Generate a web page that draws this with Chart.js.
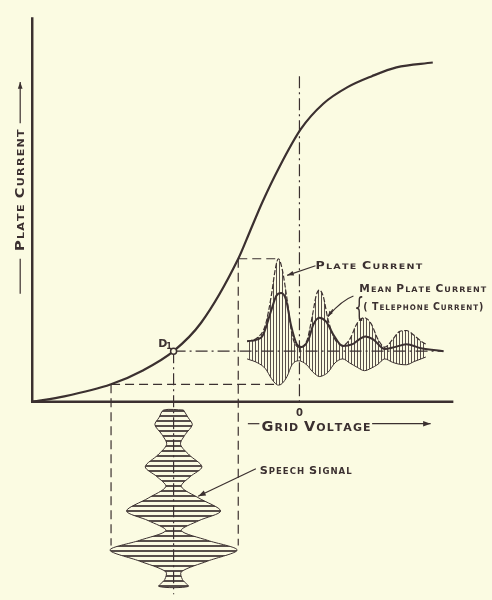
<!DOCTYPE html>
<html>
<head>
<meta charset="utf-8">
<script src="https://cdn.jsdelivr.net/npm/chart.js@4/dist/chart.umd.min.js"></script>
<style>
  html, body { margin: 0; padding: 0; background: #fbfbe2; }
  #wrap { width: 492px; height: 600px; }
</style>
</head>
<body>
<div id="wrap"><canvas id="chart" width="492" height="600"></canvas></div>
<script>
// ====== Data (grid voltage on x, plate current on y, units) ======
const curveVolts   = [-10, -8.8, -7.05, -5.88, -4.71, -3.68, -2.29, -1.85, -1.38, -0.76, 0.05, 0.89, 1.8, 2.71, 3.63, 4.99];
const curveCurrent = [0, 0.2, 0.65, 1.16, 1.89, 2.95, 5.34, 6.37, 7.47, 8.75, 10.18, 11.13, 11.75, 12.16, 12.49, 12.67];

// plate current swing (envelope of the hatched wave)
const plateVolts = [-1.96, -1.56, -1.27, -1.05, -0.9, -0.79, -0.65, -0.46, -0.28, -0.03, 0.27, 0.49, 0.63, 0.74, 0.89, 1.07, 1.33, 1.62, 1.88, 2.17, 2.43, 2.68, 2.94, 3.19, 3.49, 3.74, 4.0, 4.29, 4.55, 4.73];
const plateUpper = [2.26, 2.4, 2.88, 3.98, 4.97, 5.34, 4.97, 3.8, 2.52, 2.04, 2.26, 3.25, 3.98, 4.17, 3.94, 3.07, 2.33, 2.11, 2.33, 2.95, 3.14, 2.92, 2.33, 2.04, 2.33, 2.62, 2.66, 2.48, 2.26, 2.15];
const plateLower = [1.6, 1.45, 1.23, 0.87, 0.68, 0.62, 0.68, 0.95, 1.38, 1.53, 1.38, 1.12, 1.0, 0.94, 0.98, 1.1, 1.45, 1.6, 1.45, 1.28, 1.16, 1.25, 1.4, 1.6, 1.47, 1.4, 1.38, 1.5, 1.6, 1.67];

// mean plate current (telephone current)
const meanVolts   = [-1.96, -1.42, -1.05, -0.87, -0.68, -0.5, -0.32, -0.1, 0.08, 0.34, 0.52, 0.74, 1.0, 1.26, 1.62, 1.99, 2.24, 2.46, 2.76, 3.19, 3.56, 4.0, 4.55, 5.39];
const meanCurrent = [2.26, 2.41, 3.43, 3.95, 4.06, 3.8, 2.88, 2.15, 2.04, 2.33, 2.88, 3.14, 2.99, 2.52, 2.08, 2.15, 2.33, 2.44, 2.33, 1.97, 2.04, 2.15, 2.0, 1.89];

// speech signal on the grid, time running downward below the axis
const speechTime = [-0.31, -0.6, -0.86, -1.22, -1.59, -1.99, -2.43, -2.8, -3.17, -3.6, -4.08, -4.44, -4.81, -5.18, -5.54, -5.95, -6.35, -6.64, -6.9];
const speechAmp  = [0.37, 0.55, 0.7, 0.44, 0.26, 0.59, 1.06, 0.62, 0.29, 0.95, 1.76, 0.95, 0.29, 1.28, 2.38, 1.28, 0.29, 0.33, 0.55];

// operating point D1 and axis extents
const pointD1 = [-4.71, 1.89];
const axisVolts = [-10, 5.76];
const axisTop = 14.36;
const lowSwing = [-7.05, 0.65];   // where the speech swing meets the curve
const highSwing = [-2.29, 5.34];

const ink = "#3b3030";
const paperColor = "#fbfbe2";

function pts(xs, ys) {
  return xs.map((x, i) => ({ x, y: ys[i] }));
}

function stripes(vertical) {
  const c = document.createElement("canvas");
  c.width = vertical ? 3 : 4;
  c.height = vertical ? 4 : 5;
  const g = c.getContext("2d");
  g.fillStyle = "rgba(59,48,48,0.85)";
  if (vertical) g.fillRect(0, 0, 1, 4);
  else g.fillRect(0, 0, 4, 2);
  return g.createPattern(c, "repeat");
}

// closed outline of the speech signal
const speechOutline = [
  ...speechTime.map((t, i) => ({ x: pointD1[0] + speechAmp[i], y: t })),
  ...speechTime.slice().reverse().map((t, i) => ({ x: pointD1[0] - speechAmp[speechAmp.length - 1 - i], y: t }))
];
speechOutline.push(speechOutline[0]);

const dashed = [9, 5];
const dashDot = [12, 4, 2, 4];

function seg(a, b, dash, width) {
  return {
    data: [{ x: a[0], y: a[1] }, { x: b[0], y: b[1] }],
    borderColor: ink, borderWidth: width || 1.2, borderDash: dash || [], tension: 0, fill: false
  };
}

// ====== Paper + lettering ======
const paper = {
  id: "paper",
  beforeDraw(chart) {
    const c = chart.ctx;
    c.save();
    c.fillStyle = paperColor;
    c.fillRect(0, 0, chart.width, chart.height);
    c.restore();
  }
};

function capsText(c, text, x, y, size, width) {
  const small = size * 0.76;
  const pieces = [];
  let total = 0;
  for (const ch of text) {
    const big = ch === ch.toUpperCase() && ch !== " ";
    const s = big ? size : small;
    c.font = "bold " + s + "px 'DejaVu Sans'";
    const w = c.measureText(ch.toUpperCase()).width + 1;
    pieces.push({ ch: ch.toUpperCase(), s, w });
    total += w;
  }
  const k = width ? width / total : 1;
  c.save();
  c.translate(x, y);
  c.scale(k, 1);
  let cx = 0;
  for (const p of pieces) {
    c.font = "bold " + p.s + "px 'DejaVu Sans'";
    c.fillText(p.ch, cx, 0);
    cx += p.w;
  }
  c.restore();
}

function arrow(c, x1, y1, x2, y2, head) {
  c.beginPath();
  c.moveTo(x1, y1);
  c.lineTo(x2, y2);
  c.stroke();
  const a = Math.atan2(y2 - y1, x2 - x1);
  const h = head || 7;
  c.beginPath();
  c.moveTo(x2, y2);
  c.lineTo(x2 - h * Math.cos(a - 0.35), y2 - h * Math.sin(a - 0.35));
  c.lineTo(x2 - h * Math.cos(a + 0.35), y2 - h * Math.sin(a + 0.35));
  c.closePath();
  c.fill();
}

const notes = [
  { text: "Plate Current", x: 0.6, y: 4.96, size: 10, w: 108 },
  { text: "Mean Plate Current", x: 2.24, y: 4.09, size: 10, w: 128 },
  { text: "( Telephone Current)", x: 2.39, y: 3.43, size: 10, w: 121 },
  { text: "Grid Voltage", x: -1.42, y: -1.08, size: 14, w: 110 },
  { text: "Speech Signal", x: -1.49, y: -2.69, size: 11, w: 93 }
];

const lettering = {
  id: "lettering",
  afterDatasetsDraw(chart) {
    const c = chart.ctx;
    const X = v => chart.scales.x.getPixelForValue(v);
    const Y = v => chart.scales.y.getPixelForValue(v);
    c.save();
    c.fillStyle = ink;
    c.strokeStyle = ink;
    c.lineWidth = 1.2;
    c.textBaseline = "alphabetic";
    notes.forEach(n => capsText(c, n.text, X(n.x), Y(n.y), n.size, n.w));

    // zero mark
    c.font = "bold 10px 'DejaVu Sans'";
    c.textAlign = "center";
    c.fillText("0", X(0), Y(-0.52));
    c.textAlign = "left";

    // D1
    c.font = "bold 11px 'DejaVu Sans'";
    c.fillText("D", X(-5.28), Y(2.05));
    c.font = "bold 8px 'DejaVu Sans'";
    c.fillText("1", X(-4.98), Y(1.98));

    // brace for mean current
    c.save();
    c.translate(X(2.05), Y(3.2));
    c.scale(0.6, 1);
    c.font = "26px 'DejaVu Sans'";
    c.fillText("{", 0, 0);
    c.restore();

    // arrows
    arrow(c, X(0.6), Y(5.08), X(-0.46), Y(4.72), 7);
    c.beginPath();
    c.moveTo(X(2.02), Y(3.95));
    c.quadraticCurveTo(X(1.6), Y(3.8), X(1.07), Y(3.2));
    c.stroke();
    arrow(c, X(1.25), Y(3.45), X(1.07), Y(3.18), 6);
    arrow(c, X(-1.63), Y(-2.5), X(-3.79), Y(-3.53), 8);
    c.beginPath();
    c.moveTo(X(-1.93), Y(-0.82));
    c.lineTo(X(-1.5), Y(-0.82));
    c.stroke();
    arrow(c, X(2.72), Y(-0.82), X(4.91), Y(-0.82), 8);

    // vertical axis title
    c.save();
    c.translate(X(-10.45), Y(0));
    c.rotate(-Math.PI / 2);
    const along = v => Y(0) - Y(v);
    c.beginPath();
    c.moveTo(along(4.03), 0);
    c.lineTo(along(5.34), 0);
    c.stroke();
    capsText(c, "Plate Current", along(5.63), 4, 12, along(10.22) - along(5.63));
    arrow(c, along(10.4), 0, along(11.94), 0, 7);
    c.restore();
    c.restore();
  }
};

// ====== Chart ======
const ctx = document.getElementById("chart").getContext("2d");
const smooth = { tension: 0.4, cubicInterpolationMode: "monotone" };

new Chart(ctx, {
  type: "line",
  data: {
    datasets: [
      { data: [{ x: pointD1[0], y: pointD1[1] }], showLine: false, pointRadius: 3, pointBorderWidth: 1.5,
        pointBackgroundColor: paperColor, pointBorderColor: ink },
      { data: pts(curveVolts, curveCurrent), borderColor: ink, borderWidth: 2.2, ...smooth, fill: false },
      { data: pts(meanVolts, meanCurrent), borderColor: ink, borderWidth: 2, ...smooth, fill: false },
      { data: pts(plateVolts, plateUpper), borderColor: ink, borderWidth: 1.2, borderDash: [5, 2], ...smooth,
        fill: "+1", backgroundColor: stripes(true) },
      { data: pts(plateVolts, plateLower), borderColor: ink, borderWidth: 1, ...smooth, fill: false },
      { data: speechOutline, borderColor: ink, borderWidth: 1, tension: 0.3, fill: "shape",
        backgroundColor: stripes(false) },
      // axes
      { data: [{ x: axisVolts[0], y: axisTop }, { x: axisVolts[0], y: 0 }, { x: axisVolts[1], y: 0 }],
        borderColor: ink, borderWidth: 2.5, tension: 0, fill: false },
      // projection lines
      seg(pointD1, [5.39, pointD1[1]], dashDot),
      seg(pointD1, [pointD1[0], -7.2], dashDot),
      seg([0, 12.16], [0, 0], dashDot),
      seg(lowSwing, [lowSwing[0], -5.37], dashed),
      seg(highSwing, [highSwing[0], -5.37], dashed),
      seg(lowSwing, [-0.72, lowSwing[1]], dashed),
      seg(highSwing, [-0.79, highSwing[1]], dashed)
    ]
  },
  options: {
    responsive: false,
    animation: false,
    layout: { padding: 0 },
    elements: { point: { radius: 0 } },
    plugins: { legend: { display: false }, tooltip: { enabled: false } },
    scales: {
      x: { type: "linear", min: -11, max: 7, display: false },
      y: { type: "linear", min: -7.2, max: 14.8, display: false }
    }
  },
  plugins: [paper, lettering]
});
</script>
</body>
</html>
